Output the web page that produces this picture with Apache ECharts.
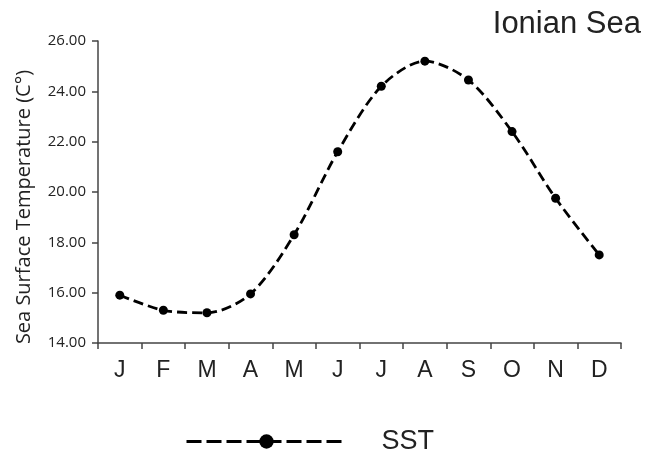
<!DOCTYPE html>
<html>
<head>
<meta charset="utf-8">
<script src="https://cdn.jsdelivr.net/npm/echarts@6/dist/echarts.min.js"></script>
<style>
  html, body { margin: 0; padding: 0; background: #fff; }
  #chart { width: 648px; height: 459px; }
</style>
</head>
<body>
<div id="chart"></div>
<script>
const months = ["J", "F", "M", "A", "M", "J", "J", "A", "S", "O", "N", "D"];
const sst = [15.9, 15.3, 15.2, 15.95, 18.3, 21.6, 24.2, 25.2, 24.45, 22.4, 19.75, 17.5];
const yMin = 14;
const yMax = 26;
const yStep = 2;

const axisColor = "#444";
const lineStyle = { color: axisColor, width: 1.5 };

const chart = echarts.init(document.getElementById("chart"));

chart.setOption({
  animation: false,
  title: {
    text: "Ionian Sea",
    right: 2,
    top: 4,
    textStyle: {
      fontFamily: "Liberation Sans",
      fontSize: 31,
      fontWeight: "normal",
      color: "#222"
    }
  },
  legend: {
    left: 180,
    top: 423,
    itemWidth: 160,
    itemHeight: 18,
    data: ["SST"],
    lineStyle: { width: 3, type: [15, 5] },
    textStyle: {
      fontFamily: "Liberation Sans",
      fontSize: 27,
      color: "#222",
      padding: [0, 0, 0, 30]
    }
  },
  grid: { left: 98, right: 27, top: 41, bottom: 116, containLabel: false },
  xAxis: {
    type: "category",
    data: months,
    boundaryGap: true,
    axisLine: { show: true, lineStyle: lineStyle },
    axisTick: { show: true, length: 6, lineStyle: lineStyle },
    axisLabel: {
      margin: 16,
      fontFamily: "Liberation Sans",
      fontSize: 23,
      color: "#222"
    }
  },
  yAxis: {
    type: "value",
    min: yMin,
    max: yMax,
    interval: yStep,
    splitLine: { show: false },
    name: "Sea Surface Temperature (C°)",
    nameLocation: "middle",
    nameGap: 64,
    nameTextStyle: {
      fontFamily: "Open Sans",
      fontSize: 20,
      color: "#222",
      padding: [0, 30, 0, 0]
    },
    axisLine: { show: true, lineStyle: lineStyle },
    axisTick: { show: true, length: 6, lineStyle: lineStyle },
    axisLabel: {
      margin: 12,
      fontFamily: "Open Sans",
      fontSize: 15,
      color: "#222",
      formatter: v => v.toFixed(2)
    }
  },
  series: [
    {
      name: "SST",
      type: "line",
      data: sst,
      smooth: 0.3,
      symbol: "circle",
      symbolSize: 9,
      itemStyle: { color: "#000" },
      lineStyle: { color: "#000", width: 2.8, type: [10, 5] }
    }
  ]
});
</script>
</body>
</html>
